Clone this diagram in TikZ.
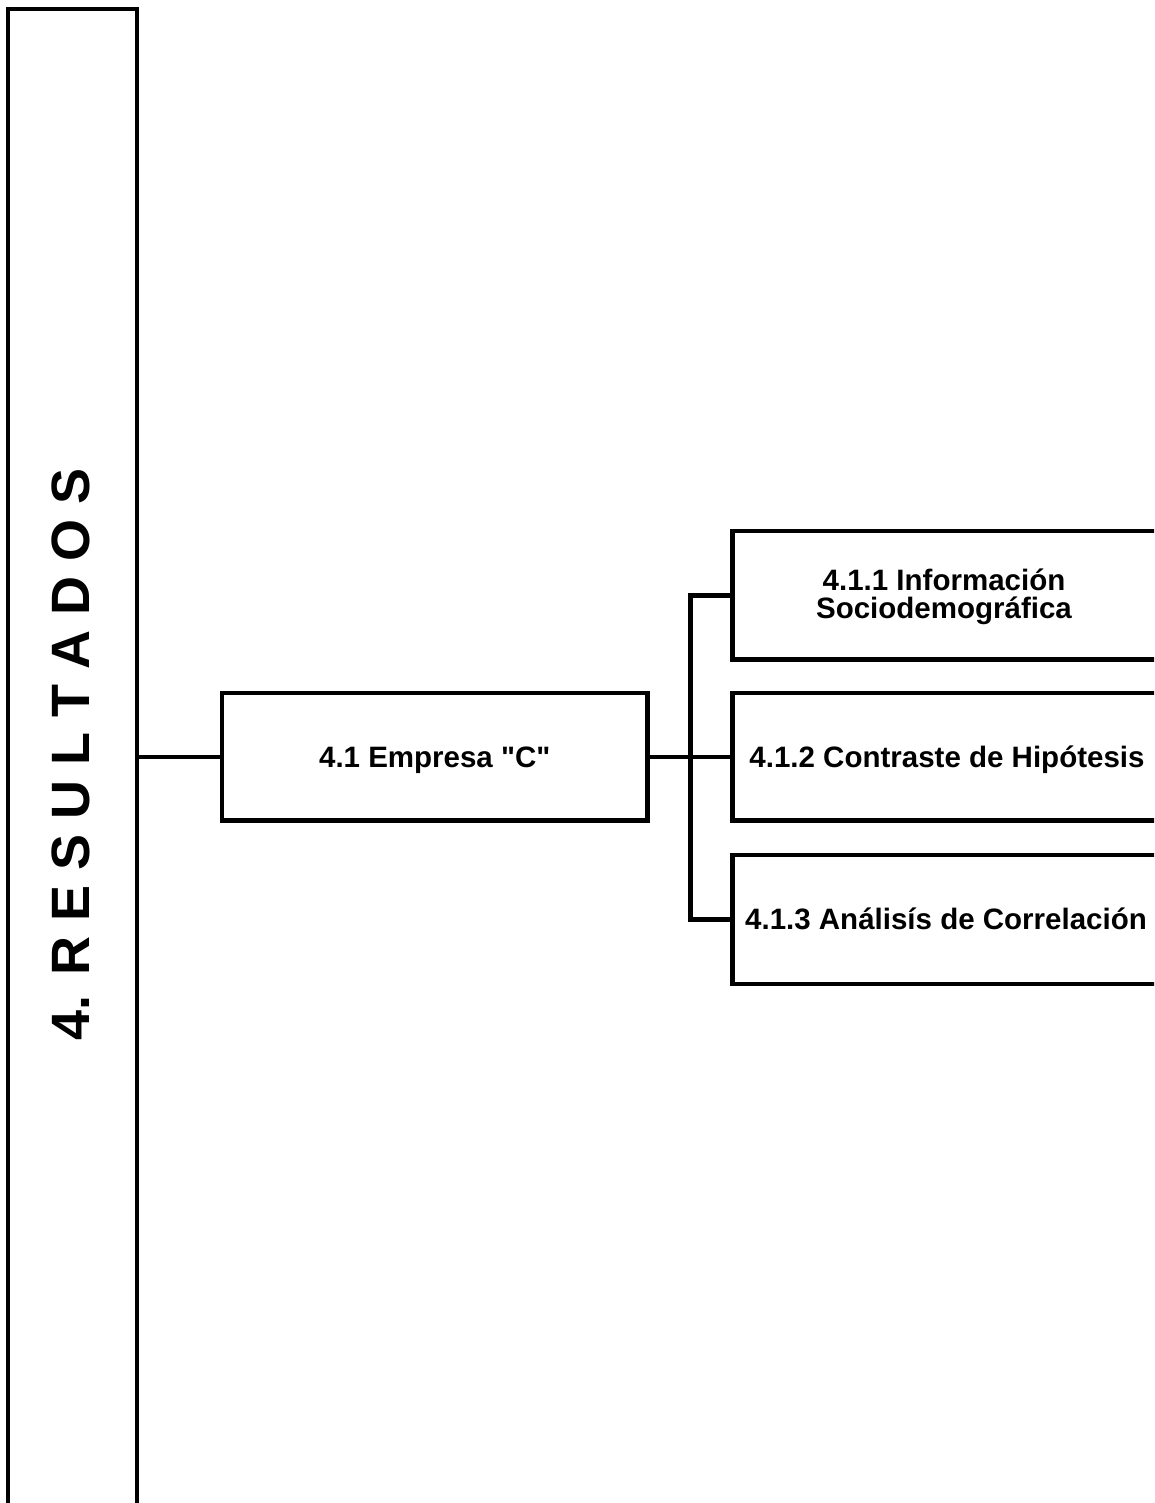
\documentclass[tikz,border=0pt]{standalone}
\usepackage{fontspec}
\setmainfont{Liberation Sans}
\newcommand{\straightquote}{\XeTeXglyph\XeTeXcharglyph"0022\relax}
\begin{document}
\begin{tikzpicture}[x=1pt,y=-1pt,
  boxstyle/.style={draw=black, line width=4.5pt, rectangle, outer sep=0pt, inner sep=0pt, minimum width=425.5pt},
  txt/.style={font=\bfseries\fontsize{29.5}{28}\selectfont, inner sep=0pt, anchor=base, align=center},
  conn/.style={draw=black, line width=4.5pt}]
\useasboundingbox (0,0) rectangle (1154,1503);
\clip (0,0) rectangle (1154,1503);
% main tall box
\node[boxstyle, minimum width=129pt, minimum height=1611pt] (res) at (72.5,814.5) {};
\node[font=\bfseries\fontsize{54}{54}\selectfont, inner sep=0pt, anchor=base, rotate=90] (restxt) at (89,754) {4. R E S U L T A D O S};
% boxes
\node[boxstyle, minimum height=127.5pt] (emp) at (434.75,756.75) {};
\node[boxstyle, minimum height=128.5pt] (b1) at (945.25,595.25) {};
\node[boxstyle, minimum height=127.5pt] (b2) at (945.25,756.75) {};
\node[boxstyle, minimum height=129pt] (b3) at (945.25,919.5) {};
% texts
\node[txt] (emptxt) at (434.75,767) {4.1 Empresa \straightquote C\straightquote};
\node[txt] (b1txt) at (944,618) {4.1.1 Información\\Sociodemográfica};
\node[txt] (b2txt) at (947,767) {4.1.2 Contraste de Hipótesis};
\node[txt] (b3txt) at (946,929.5) {4.1.3 Análisís de Correlación};
% connectors
\coordinate (sp) at (690.5,756.75);
\draw[conn] (res.east |- emp.west) -- (emp.west);
\draw[conn] (emp.east) -- (b2.west);
\draw[conn] (b1.west) -| (sp) |- (b3.west);
\end{tikzpicture}
\end{document}
